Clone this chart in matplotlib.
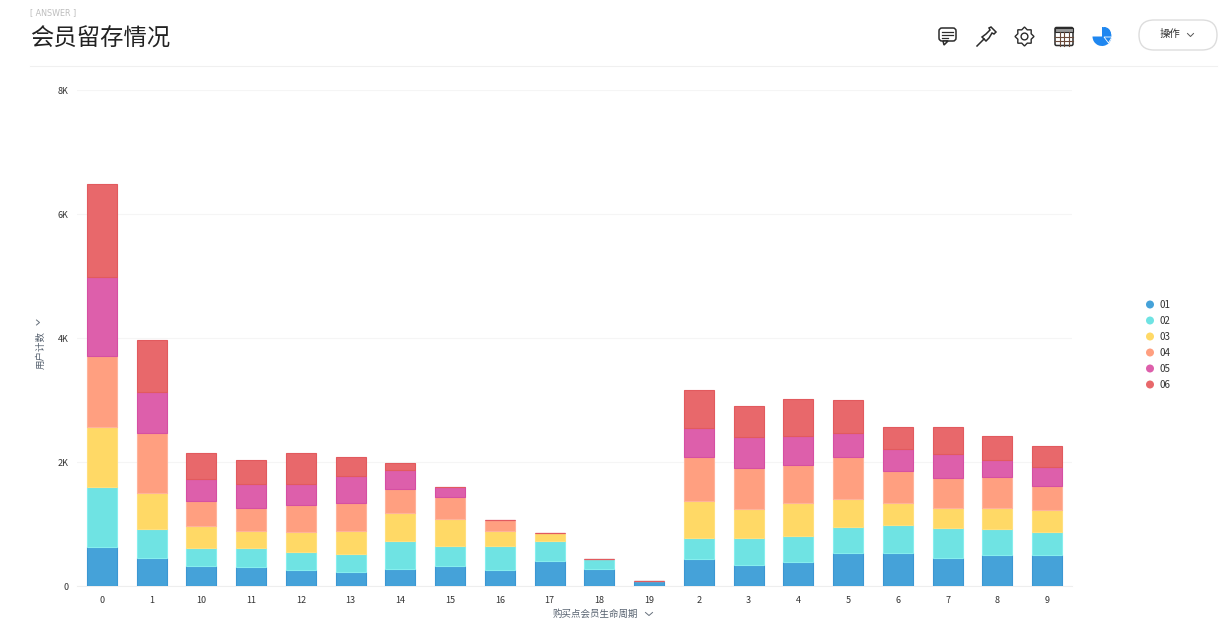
import numpy as np
import matplotlib
matplotlib.use("Agg")
import matplotlib.pyplot as plt
from matplotlib.patches import FancyBboxPatch, Wedge, Circle, Polygon, Rectangle

plt.rcParams['font.family'] = ['Noto Sans CJK SC', 'DejaVu Sans']

categories = ['0', '1', '10', '11', '12', '13', '14', '15', '16', '17', '18', '19',
              '2', '3', '4', '5', '6', '7', '8', '9']
s01 = [630, 450, 320, 305, 260, 225, 275, 320, 260, 400, 275, 80, 435, 340, 390, 530, 530, 450, 500, 500]
s02 = [970, 470, 290, 305, 290, 290, 450, 320, 385, 320, 160, 0, 340, 435, 420, 420, 450, 485, 420, 370]
s03 = [970, 580, 355, 275, 320, 370, 450, 435, 240, 130, 0, 0, 600, 470, 530, 450, 355, 320, 340, 355]
s04 = [1145, 970, 400, 370, 435, 450, 385, 355, 175, 0, 0, 0, 710, 660, 610, 680, 515, 485, 500, 385]
s05 = [1275, 660, 355, 385, 340, 435, 305, 160, 0, 0, 0, 0, 470, 500, 470, 390, 355, 385, 275, 305]
s06 = [1500, 840, 420, 385, 500, 305, 115, 0, 0, 0, 0, 0, 610, 500, 600, 530, 355, 435, 385, 340]
series_names = ['01', '02', '03', '04', '05', '06']
series_values = [s01, s02, s03, s04, s05, s06]
series_colors = ['#45a2d9', '#6fe3e3', '#ffd966', '#ff9f80', '#dd5fab', '#e8686b']
edge_colors = ['#3b97d3', '#86eeee', '#ffe07f', '#ffb39b', '#d64fa3', '#e25a5e']
y_ticks = [0, 2000, 4000, 6000, 8000]
y_labels = ['0', '2K', '4K', '6K', '8K']

W, H = 1228, 630
fig = plt.figure(figsize=(W / 100, H / 100), dpi=100, facecolor='white')

# main plot, placed in pixels
left, right, top, bottom = 77, 1072, 90, 586
ax = fig.add_axes([left / W, 1 - bottom / H, (right - left) / W, (bottom - top) / H])
x = np.arange(len(categories))
base = np.zeros(len(categories))
for vals, name, col, ec in zip(series_values, series_names, series_colors, edge_colors):
    vals = np.array(vals)
    ax.bar(x, vals, width=0.6, bottom=base, color=col, edgecolor=ec, linewidth=0.8, label=name, zorder=3)
    base = base + vals
ax.set_xlim(-0.5, len(categories) - 0.5)
ax.set_ylim(0, 8000)
ax.set_xticks(x)
ax.set_xticklabels(categories, fontsize=6.5, color='#333333')
ax.set_yticks(y_ticks)
ax.set_yticklabels(y_labels, fontsize=6.5, color='#333333')
ax.tick_params(length=0, pad=7)
ax.tick_params(axis='y', pad=6)
ax.grid(axis='y', color='#f5f5f5', linewidth=0.8, zorder=0)
for s in ['top', 'right', 'left']:
    ax.spines[s].set_visible(False)
ax.spines['bottom'].set_color('#eeeeee')

# page furniture in pixel coordinates
ov = fig.add_axes([0, 0, 1, 1], facecolor='none')
ov.set_xlim(0, W)
ov.set_ylim(H, 0)
ov.axis('off')

ov.text(30, 12.5, '[ ANSWER ]', fontsize=5.8, color='#bdbdbd', va='center', family='DejaVu Sans')
ov.text(30, 39, '会员留存情况', fontsize=16.8, color='#222222', va='center')
ov.plot([30, 1217], [65.5, 65.5], color='#f0f0f0', lw=0.8)

ov.text(41, 350, '用户计数', fontsize=6.8, color='#55606e', rotation=90, ha='center', va='center')
ov.plot([36.5, 39.5, 36.5], [320, 322.5, 325], color='#66707c', lw=0.7)
ov.text(595, 614, '购买点会员生命周期', fontsize=6.8, color='#55606e', ha='center', va='center')
ov.plot([645.5, 649, 652.5], [612.5, 615.5, 612.5], color='#66707c', lw=0.7)

# legend
for i, (name, col) in enumerate(zip(series_names, series_colors)):
    ly = 304.5 + i * 16
    ov.add_patch(Circle((1150, ly), 4, color=col, lw=0))
    ov.text(1159, ly, name, fontsize=7, color='#333333', va='center')

# toolbar icons
ic = '#2b2b2b'
# comment
ov.add_patch(FancyBboxPatch((939, 28), 17, 13, boxstyle='round,pad=0,rounding_size=3', fc='none', ec=ic, lw=1.1))
ov.add_patch(Polygon([[943, 41], [944, 45], [948, 41]], fc='white', ec=ic, lw=1.1))
for yy, xe in zip([31.5, 34.5, 37.5], [953, 953, 948]):
    ov.plot([942, xe], [yy, yy], color=ic, lw=0.9)
# pin
ov.add_patch(Polygon([[986, 41], [982, 37], [986, 34], [990, 30], [989, 28], [991, 27],
                      [996, 32], [994, 34], [992, 33], [989, 38]], fc='none', ec=ic, lw=1.1))
ov.plot([977, 984], [46, 39], color=ic, lw=1.1)
# gear
ang = np.linspace(0, 2 * np.pi, 17)[:-1]
rad = np.where(np.arange(16) % 2 == 0, 9.5, 7.2)
ov.add_patch(Polygon(np.c_[1024.5 + rad * np.sin(ang), 36.5 + rad * np.cos(ang)], fc='none', ec=ic, lw=1.0))
ov.add_patch(Circle((1024.5, 36.5), 3.4, fc='none', ec=ic, lw=1.0))
# table
ov.add_patch(FancyBboxPatch((1055, 27.5), 18, 18, boxstyle='round,pad=0,rounding_size=1.5', fc='none', ec=ic, lw=1.1))
ov.add_patch(Rectangle((1055, 27.5), 18, 4.5, fc='#9a9a9a', ec=ic, lw=0.8))
for xx in [1059.5, 1064, 1068.5]:
    ov.plot([xx, xx], [32, 45.5], color='#6b4a3a', lw=0.8)
for yy in [36.5, 41]:
    ov.plot([1055, 1073], [yy, yy], color='#6b4a3a', lw=0.8)
# pie
ov.add_patch(Wedge((1102, 36.5), 9.5, 270, 180, width=None, fc='#1f87f0', lw=0))
ov.add_patch(Wedge((1104, 34), 7, 270, 360, fc='#1f87f0', lw=0))
ov.add_patch(Polygon([[1104, 37], [1112, 37], [1108.5, 43]], fc='#1f87f0', ec='white', lw=0.6))
# action button
ov.add_patch(FancyBboxPatch((1139, 20), 78, 30, boxstyle='round,pad=0,rounding_size=15', fc='white', ec='#dddddd', lw=1.0))
ov.text(1170, 34, '操作', fontsize=7.5, color='#333333', ha='center', va='center')
ov.plot([1187.5, 1190.5, 1193.5], [33.5, 36.5, 33.5], color='#555555', lw=0.7)

fig.savefig('out.png', dpi=100)
